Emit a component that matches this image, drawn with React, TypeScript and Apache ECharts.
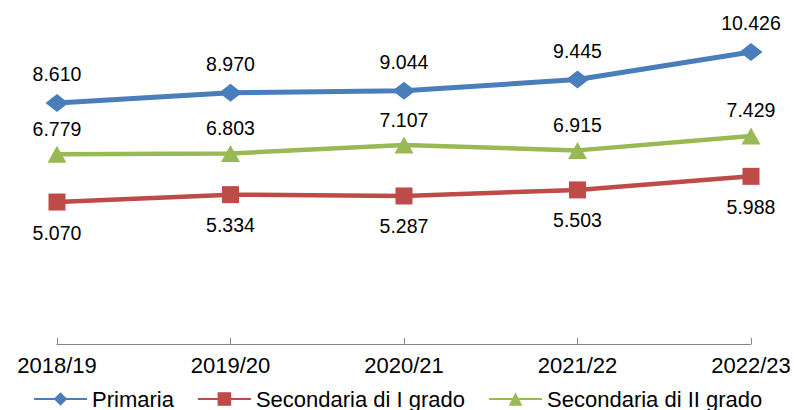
import React, { useEffect, useRef } from "react";
import * as echarts from "echarts";

const categories = ["2018/19", "2019/20", "2020/21", "2021/22", "2022/23"];
const primaria = [8610, 8970, 9044, 9445, 10426];
const secondariaI = [5070, 5334, 5287, 5503, 5988];
const secondariaII = [6779, 6803, 7107, 6915, 7429];

const FONT = "'Liberation Sans', Arial, sans-serif";
const fmt = (v: number) => {
  const s = String(Math.round(v));
  return s.replace(/\B(?=(\d{3})+(?!\d))/g, ".");
};

export default function App() {
  const ref = useRef<HTMLDivElement>(null);
  useEffect(() => {
    if (!ref.current) return;
    const chart = echarts.init(ref.current, null, { renderer: "svg" });
    const labelBase = {
      show: true,
      color: "#000",
      fontSize: 19.5,
      fontFamily: FONT,
      formatter: (p: any) => fmt(p.value),
    };
    chart.setOption({
      animation: false,
      grid: { left: 57, right: 43, top: 8, bottom: 66 },
      legend: {
        left: 33,
        top: 388,
        padding: 0,
        itemWidth: 53,
        itemHeight: 17,
        itemGap: 23,
        textStyle: { fontSize: 22, color: "#000", fontFamily: FONT },
        data: ["Primaria", "Secondaria di I grado", "Secondaria di II grado"],
      },
      xAxis: {
        type: "category",
        data: categories,
        boundaryGap: false,
        axisLine: { lineStyle: { color: "#868686", width: 1 } },
        axisTick: { inside: true, length: 6, lineStyle: { color: "#868686" } },
        axisLabel: { fontSize: 22, color: "#000", fontFamily: FONT, margin: 10 },
      },
      yAxis: {
        type: "value",
        min: 0,
        max: 12000,
        show: false,
        splitLine: { show: false },
      },
      series: [
        {
          name: "Primaria",
          type: "line",
          data: primaria,
          symbol: "diamond",
          symbolSize: [23, 18],
          itemStyle: { color: "#4A7EBB" },
          lineStyle: { color: "#4A7EBB", width: 5 },
          label: { ...labelBase, position: "top", distance: 10 },
        },
        {
          name: "Secondaria di I grado",
          type: "line",
          data: secondariaI,
          symbol: "rect",
          symbolSize: 17,
          itemStyle: { color: "#BE4B48" },
          lineStyle: { color: "#BE4B48", width: 4.5 },
          label: { ...labelBase, position: "bottom", distance: 12 },
        },
        {
          name: "Secondaria di II grado",
          type: "line",
          data: secondariaII,
          symbol: "triangle",
          symbolSize: [19, 17],
          itemStyle: { color: "#98B954" },
          lineStyle: { color: "#98B954", width: 4.5 },
          label: { ...labelBase, position: "top", distance: 7 },
        },
      ],
    });
    return () => chart.dispose();
  }, []);
  return (
    <div
      ref={ref}
      style={{ position: "fixed", left: 0, top: 0, width: 794, height: 410, background: "#fff" }}
    />
  );
}
